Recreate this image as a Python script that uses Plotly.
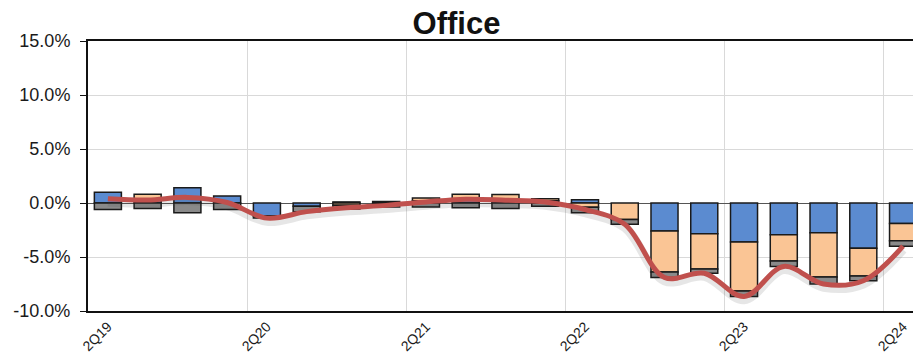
import plotly.graph_objects as go

# Quarterly categories
quarters = ["2Q19", "3Q19", "4Q19", "1Q20", "2Q20", "3Q20", "4Q20", "1Q21",
            "2Q21", "3Q21", "4Q21", "1Q22", "2Q22", "3Q22", "4Q22", "1Q23",
            "2Q23", "3Q23", "4Q23", "1Q24", "2Q24"]

# Component contributions (%)
blue_vals = [1.0, 0.3, 1.42, 0.65, -1.2, -0.3, 0.1, 0.15, 0.2, 0.4, 0.2,
             0.2, 0.3, None, -2.6, -2.85, -3.6, -2.93, -2.75, -4.2, -1.9]
orange_vals = [None, 0.5, None, None, None, None, -0.2, -0.1, 0.26, 0.4, 0.58,
               0.2, -0.4, -1.52, -3.8, -3.25, -4.55, -2.44, -4.1, -2.55, -1.6]
gray_vals = [-0.6, -0.52, -0.9, -0.6, -0.2, -0.5, -0.35, -0.27, -0.37, -0.45, -0.52,
             -0.3, -0.5, -0.45, -0.5, -0.4, -0.5, -0.5, -0.65, -0.45, -0.5]

# Net total (%)
total_vals = [0.4, 0.28, 0.52, 0.05, -1.4, -0.8, -0.45, -0.22, 0.09, 0.35, 0.26,
              0.1, -0.6, -1.97, -6.9, -6.5, -8.65, -5.87, -7.5, -7.2, -4.0]

# Axis ticks
y_ticks = [-10, -5, 0, 5, 10, 15]
y_tick_text = ["-10.0%", "-5.0%", "0.0%", "5.0%", "10.0%", "15.0%"]
x_ticks = ["2Q19", "2Q20", "2Q21", "2Q22", "2Q23", "2Q24"]

outline = dict(color="#1a1a1a", width=1.5)

fig = go.Figure()
fig.add_trace(go.Bar(x=quarters, y=blue_vals, marker=dict(color="#5b8bd0", line=outline),
                     name="blue", showlegend=False))
fig.add_trace(go.Bar(x=quarters, y=orange_vals, marker=dict(color="#fac595", line=outline),
                     name="orange", showlegend=False))
fig.add_trace(go.Bar(x=quarters, y=gray_vals, marker=dict(color="#8a8a8a", line=outline),
                     name="gray", showlegend=False))
# soft drop shadow beneath the net line
fig.add_trace(go.Scatter(x=quarters, y=[v - 0.3 for v in total_vals], mode="lines",
                         line=dict(color="rgba(60,60,60,0.13)", width=9, shape="spline",
                                   smoothing=1.0),
                         hoverinfo="skip", showlegend=False))
fig.add_trace(go.Scatter(x=quarters, y=total_vals, mode="lines",
                         line=dict(color="#c0504d", width=5, shape="spline", smoothing=1.0),
                         showlegend=False))

fig.update_layout(
    width=913, height=354,
    margin=dict(l=88, r=0, t=41, b=43),
    paper_bgcolor="white", plot_bgcolor="white",
    barmode="relative", bargap=0.32,
    font=dict(family="Liberation Sans, Arial, sans-serif", color="#1a1a1a"),
    title=dict(text="<b>Office</b>", x=0.5, xanchor="center", y=0.935, yanchor="middle",
               font=dict(size=31, color="#111111")),
)
fig.update_xaxes(
    type="category", range=[-0.5, 20.25], automargin=False,
    tickmode="array", tickvals=x_ticks, ticktext=x_ticks, tickson="boundaries",
    tickangle=-45, tickfont=dict(size=14),
    showgrid=True, gridcolor="#d9d9d9", gridwidth=1,
    showline=True, linecolor="#111111", linewidth=2, mirror=True,
    ticks="", fixedrange=True,
)
fig.update_yaxes(
    range=[-10, 15], tickvals=y_ticks, ticktext=y_tick_text, automargin=False,
    tickfont=dict(size=18), ticks="outside", ticklen=6, tickcolor="#111111",
    ticklabelstandoff=6,
    showgrid=True, gridcolor="#d9d9d9", gridwidth=1,
    zeroline=True, zerolinecolor="#555555", zerolinewidth=1,
    showline=True, linecolor="#111111", linewidth=2,
)

fig.write_html("out.html")
